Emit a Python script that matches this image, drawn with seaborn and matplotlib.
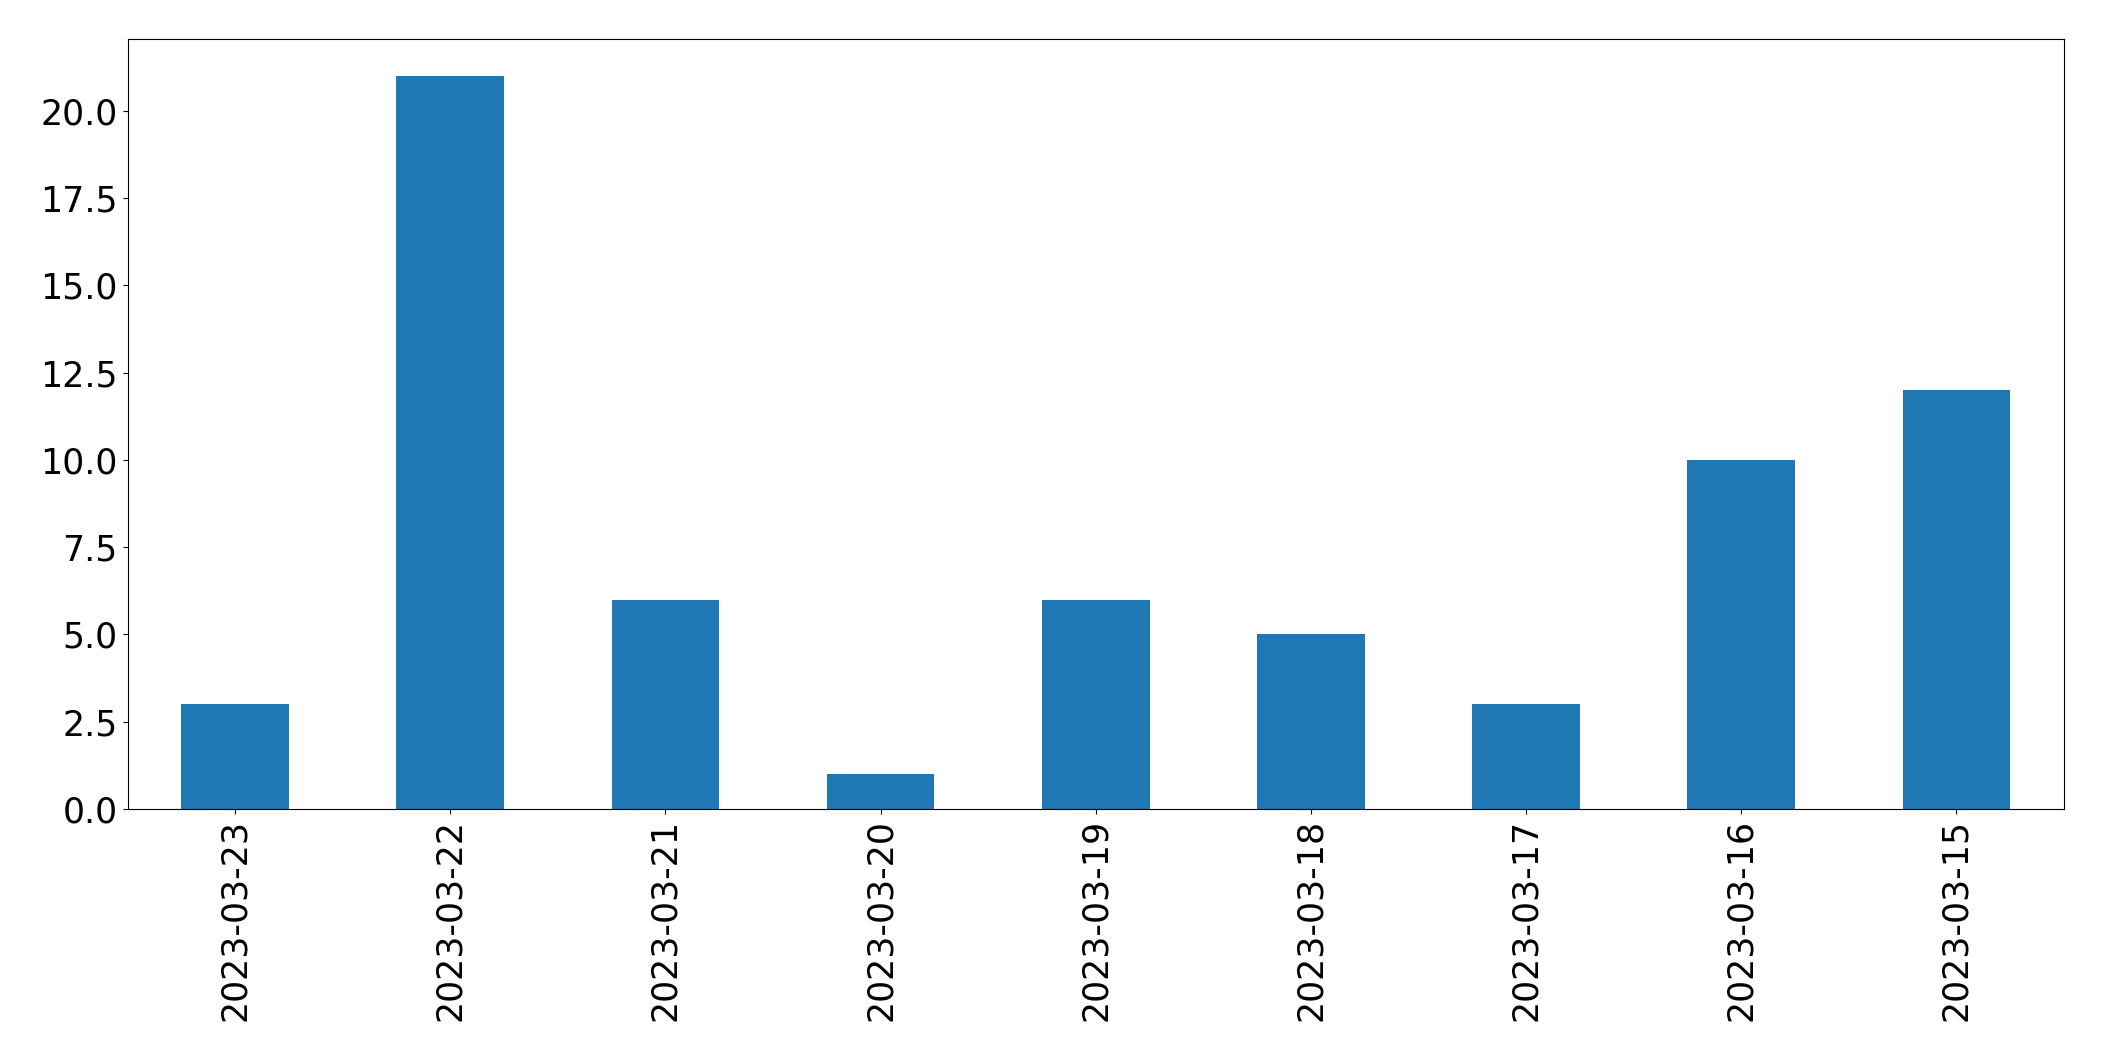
import matplotlib
matplotlib.use("Agg")
import matplotlib.pyplot as plt
import seaborn as sns
import pandas as pd

dates = ["2023-03-23", "2023-03-22", "2023-03-21", "2023-03-20", "2023-03-19",
         "2023-03-18", "2023-03-17", "2023-03-16", "2023-03-15"]
counts = [3, 21, 6, 1, 6, 5, 3, 10, 12]

df = pd.DataFrame({"date": dates, "count": counts})

fig = plt.figure(figsize=(21.04, 10.61), dpi=100)
ax = fig.add_axes([0.0606, 0.2375, 0.9204, 0.7255])
sns.barplot(data=df, x="date", y="count", order=dates, color="#1f77b4",
            saturation=1, width=0.5, ax=ax)
ax.set_xlim(-0.5, len(dates) - 0.5)
ax.set_ylim(0, 22.05)
ax.set_yticks([0, 2.5, 5, 7.5, 10, 12.5, 15, 17.5, 20])
ax.set_yticklabels(["0.0", "2.5", "5.0", "7.5", "10.0", "12.5", "15.0", "17.5", "20.0"])
ax.set_xlabel("")
ax.set_ylabel("")
ax.tick_params(axis="both", labelsize=25)
ax.tick_params(axis="x", labelrotation=90)
fig.savefig("out.png", dpi=100)
